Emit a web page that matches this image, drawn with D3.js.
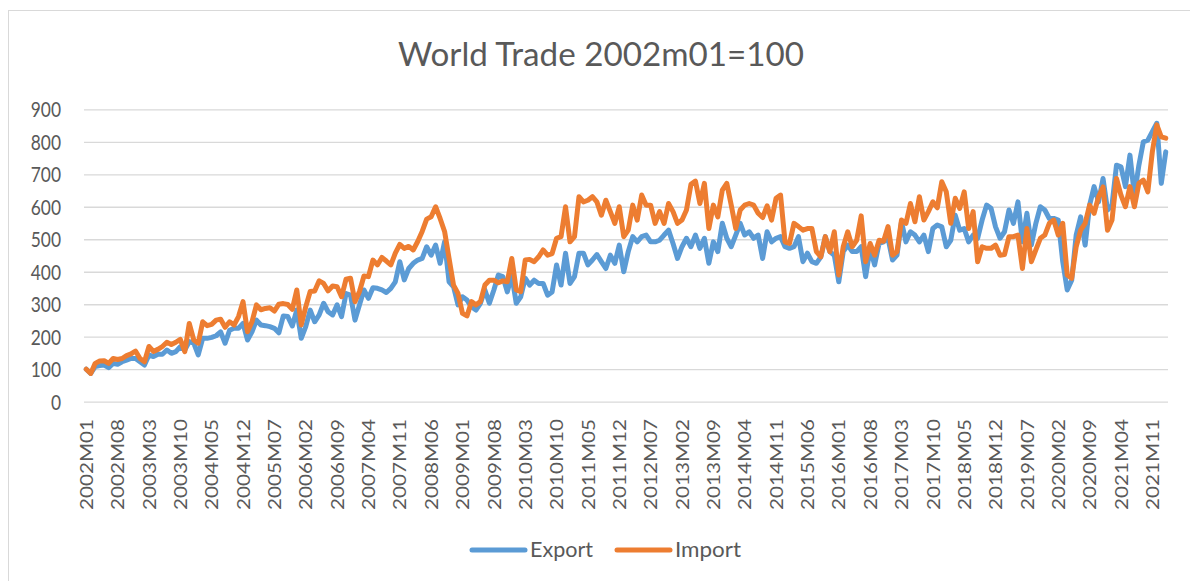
<!DOCTYPE html>
<html>
<head>
<meta charset="utf-8">
<script src="https://cdn.jsdelivr.net/npm/d3@7"></script>
<style>
  body { margin: 0; background: #fff; }
  svg text { font-family: Lato, "Open Sans", sans-serif; fill: #595959; }
</style>
</head>
<body>
<svg id="chart" width="1190" height="581"></svg>
<script>
// months 2002M01 .. 2022M02
var months = [];
for (var k = 0; k < 242; k++) {
  var yr = 2002 + Math.floor(k / 12), mo = (k % 12) + 1;
  months.push(yr + "M" + (mo < 10 ? "0" + mo : mo));
}

var tickLabels = ["2002M01","2002M08","2003M03","2003M10","2004M05","2004M12","2005M07",
  "2006M02","2006M09","2007M04","2007M11","2008M06","2009M01","2009M08","2010M03",
  "2010M10","2011M05","2011M12","2012M07","2013M02","2013M09","2014M04","2014M11",
  "2015M06","2016M01","2016M08","2017M03","2017M10","2018M05","2018M12","2019M07",
  "2020M02","2020M09","2021M04","2021M11"];

var yTicks = [0, 100, 200, 300, 400, 500, 600, 700, 800, 900];

var exportVals = [
  100, 87, 108, 111, 113, 105, 118, 115, 123, 128,
  133, 133, 123, 113, 144, 139, 146, 146, 159, 149,
  154, 169, 159, 185, 180, 144, 195, 195, 198, 203,
  215, 180, 220, 226, 226, 241, 190, 215, 251, 236,
  234, 231, 226, 212, 264, 262, 233, 282, 195, 231,
  282, 246, 267, 303, 277, 267, 298, 262, 333, 328,
  251, 298, 344, 318, 351, 349, 344, 336, 349, 369,
  431, 375, 410, 426, 436, 441, 477, 451, 482, 426,
  492, 369, 354, 298, 323, 313, 292, 282, 303, 344,
  303, 344, 390, 385, 338, 390, 303, 323, 380, 359,
  374, 364, 364, 328, 338, 421, 359, 457, 364, 385,
  457, 457, 421, 436, 453, 431, 410, 451, 426, 482,
  400, 462, 508, 492, 508, 513, 492, 492, 497, 513,
  528, 487, 441, 477, 503, 477, 513, 472, 503, 426,
  492, 462, 549, 503, 477, 513, 549, 513, 523, 503,
  513, 441, 523, 492, 503, 508, 477, 472, 477, 508,
  431, 457, 431, 426, 446, 508, 462, 451, 369, 462,
  482, 462, 462, 477, 385, 472, 421, 487, 492, 503,
  436, 451, 554, 492, 523, 513, 492, 513, 462, 533,
  544, 538, 477, 497, 574, 528, 533, 492, 513, 503,
  559, 605, 595, 538, 503, 523, 590, 549, 615, 492,
  580, 482, 549, 600, 590, 564, 564, 559, 431, 344,
  374, 513, 569, 482, 605, 662, 615, 687, 590, 605,
  728, 723, 662, 759, 636, 728, 800, 805, 831, 857,
  672, 769
];

var importVals = [
  100, 87, 118, 125, 126, 118, 133, 130, 133, 142,
  147, 156, 133, 123, 170, 155, 161, 170, 183, 176,
  183, 192, 154, 241, 190, 180, 246, 234, 238, 251,
  254, 229, 246, 236, 262, 308, 215, 246, 298, 283,
  287, 289, 279, 300, 302, 299, 284, 344, 236, 292,
  339, 341, 372, 364, 341, 356, 354, 323, 377, 380,
  308, 339, 387, 385, 436, 421, 444, 433, 421, 457,
  484, 472, 478, 467, 493, 524, 562, 569, 600, 564,
  524, 441, 359, 333, 272, 264, 308, 298, 308, 359,
  374, 374, 366, 372, 369, 441, 344, 339, 436, 438,
  431, 446, 467, 451, 456, 503, 508, 600, 492, 508,
  631, 615, 620, 631, 615, 574, 620, 585, 549, 600,
  508, 528, 605, 559, 636, 605, 605, 549, 585, 549,
  610, 585, 549, 559, 590, 669, 679, 610, 672, 533,
  605, 569, 651, 672, 605, 533, 590, 605, 610, 605,
  580, 567, 603, 559, 626, 636, 492, 487, 549, 539,
  528, 533, 533, 462, 446, 508, 462, 523, 390, 477,
  523, 477, 497, 572, 431, 487, 451, 497, 494, 539,
  451, 462, 559, 549, 610, 554, 631, 559, 585, 615,
  597, 677, 646, 549, 626, 595, 646, 533, 585, 431,
  477, 472, 472, 482, 451, 453, 508, 508, 513, 410,
  533, 431, 467, 503, 513, 549, 559, 513, 549, 390,
  380, 477, 528, 549, 605, 580, 631, 661, 528, 559,
  687, 636, 600, 662, 600, 672, 682, 646, 769, 852,
  815, 811
];

var seriesNames = ["Export", "Import"];
var seriesColors = ["#5b9bd5", "#ed7d31"];

var chart = d3.select("#chart");

// chart frame (runs off the right/bottom of the picture)
chart.append("rect")
  .attr("x", 8.5)
  .attr("y", 10.5)
  .attr("width", 1200)
  .attr("height", 600)
  .style("fill", "none")
  .style("stroke", "#d9d9d9")
  .style("stroke-width", 1)
  ;

var plotLeft = 84, plotRight = 1168, plotTop = 109.3, plotBottom = 401.7;

var x = d3.scalePoint()
  .domain(months)
  .range([plotLeft, plotRight])
  .padding(0.5);

var y = d3.scaleLinear()
  .domain([0, 900])
  .range([plotBottom, plotTop]);

// title
chart.append("text")
  .attr("text-anchor", "middle")
  .attr("transform", "translate(601,66) scale(1,1.25)")
  .attr("textLength", 406)
  .attr("lengthAdjust", "spacingAndGlyphs")
  .style("font-size", "26.8px")
  .text("World Trade 2002m01=100")
  ;

// y axis + gridlines
var yAxis = chart.append("g")
  .attr("transform", "translate(" + plotLeft + ",0)")
  .call(d3.axisLeft(y).tickValues(yTicks).tickSize(-(plotRight - plotLeft)).tickPadding(23));
yAxis.select(".domain").remove();
yAxis.selectAll("line")
  .style("stroke", "#d9d9d9")
  .style("stroke-width", 1.3)
  ;
yAxis.selectAll("text")
  .attr("dy", "0.36em")
  .attr("transform", "scale(1,1.2)")
  .style("font-size", "17.4px")
  .style("fill", "#595959")
  .style("font-family", "Lato, sans-serif")
  ;

// x axis labels
var xAxis = chart.append("g")
  .attr("transform", "translate(0," + plotBottom + ")")
  .call(d3.axisBottom(x).tickValues(tickLabels).tickSize(0));
xAxis.select(".domain").remove();
xAxis.selectAll("text")
  .attr("x", 0)
  .attr("y", 0)
  .attr("dy", 0)
  .attr("text-anchor", "end")
  .attr("transform", "translate(6.2,17.3) scale(1,1.2) rotate(-90)")
  .style("font-size", "17.2px")
  .style("fill", "#595959")
  .style("font-family", "Lato, sans-serif")
  ;

// lines
var line = d3.line()
  .x(function(d, i) { return x(months[i]); })
  .y(function(d) { return y(d); });

[exportVals, importVals].forEach(function(vals, s) {
  chart.append("path")
    .datum(vals)
    .attr("d", line)
    .style("fill", "none")
    .style("stroke", seriesColors[s])
    .style("stroke-width", 5)
    .style("stroke-linejoin", "round")
    .style("stroke-linecap", "round")
    ;
});

// legend
var legendX = [470, 615];
var legendW = [63, 66];
seriesNames.forEach(function(name, s) {
  chart.append("line")
    .attr("x1", legendX[s] + 2)
    .attr("x2", legendX[s] + 55)
    .attr("y1", 550)
    .attr("y2", 550)
    .style("stroke", seriesColors[s])
    .style("stroke-width", 5)
    .style("stroke-linecap", "round")
    ;
  chart.append("text")
    .attr("transform", "translate(" + (legendX[s] + 60) + ",556.7) scale(1,1.2)")
    .attr("textLength", legendW[s])
    .attr("lengthAdjust", "spacingAndGlyphs")
    .style("font-size", "17.4px")
    .text(name)
    ;
});
</script>
</body>
</html>
